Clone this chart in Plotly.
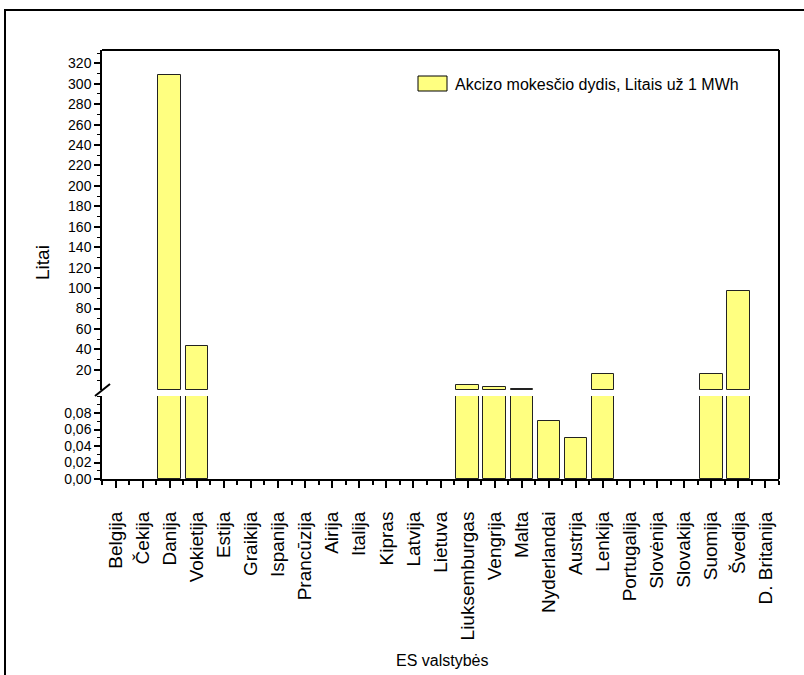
import plotly.graph_objects as go

countries = ["Belgija", "Čekija", "Danija", "Vokietija", "Estija", "Graikija", "Ispanija",
             "Prancūzija", "Airija", "Italija", "Kipras", "Latvija", "Lietuva", "Liuksemburgas",
             "Vengrija", "Malta", "Nyderlandai", "Austrija", "Lenkija", "Portugalija",
             "Slovėnija", "Slovakija", "Suomija", "Švedija", "D. Britanija"]
excise_ltl_per_mwh = [None, None, 309, 43, None, None, None,
                      None, None, None, None, None, None, 5.5,
                      3, 1.7, 0.07, 0.05, 16, None,
                      None, None, 16, 97, None]
series_name = "Akcizo mokesčio dydis, Litais už 1 MWh"
upper_ticks = [20, 40, 60, 80, 100, 120, 140, 160, 180, 200, 220, 240, 260, 280, 300, 320]
lower_ticks = [0.00, 0.02, 0.04, 0.06, 0.08]
lower_range = [0, 0.1006]
upper_range = [0.3, 333]

W, H = 804, 675
SL, SR, ST, SB = 102, 779, 50, 479
L, T, R, B = SL, ST, W - SR, H - SB
pw, ph = SR - SL, SB - ST

def px(x):
    return (x - SL) / pw

def py(y):
    return (SB - y) / ph

xs = list(range(len(countries)))
bar_color = "#FFFF80"
font_family = "Liberation Sans, Arial, sans-serif"

fig = go.Figure()
for ax, rng in [("y", lower_range), ("y2", upper_range)]:
    widths = [1 if (v is not None and v > rng[0]) else 0 for v in excise_ltl_per_mwh]
    fig.add_trace(go.Bar(
        x=xs, y=excise_ltl_per_mwh, yaxis=ax, xaxis="x", width=0.83,
        marker=dict(color=bar_color, line=dict(color="#222222", width=widths)),
        name=series_name, showlegend=False,
    ))

lower_top = py(396)
upper_bot = py(390)

fig.update_layout(
    width=W, height=H,
    margin=dict(l=L, r=R, t=T, b=B),
    paper_bgcolor="white", plot_bgcolor="white",
    separators=",.",
    font=dict(family=font_family, color="black", size=14),
    bargap=0,
    xaxis=dict(
        domain=[0, 1], range=[-0.5, len(countries) - 0.5], anchor="y",
        tickvals=xs, ticktext=countries, tickangle=-90,
        tickfont=dict(size=19, family=font_family),
        ticks="outside", ticklen=7, tickwidth=1.5, tickcolor="black",
        showline=True, linewidth=2, linecolor="black",
        showgrid=False, zeroline=False, ticklabelstandoff=16,
        minor=dict(ticks="outside", ticklen=4, tickwidth=1.5, tickcolor="black",
                   tick0=0.5, dtick=1, showgrid=False),
    ),
    yaxis=dict(
        domain=[0, lower_top], range=lower_range, anchor="x",
        tickvals=lower_ticks, tickformat=".2f",
        tickfont=dict(size=14, family=font_family),
        ticks="outside", ticklen=6, tickwidth=1.5, tickcolor="black",
        showline=True, linewidth=1.5, linecolor="black",
        showgrid=False, zeroline=False,
        minor=dict(ticks="outside", ticklen=3, tickwidth=1.2, tickcolor="black",
                   tick0=0, dtick=0.01, showgrid=False),
    ),
    yaxis2=dict(
        domain=[upper_bot, 1], range=upper_range, anchor="x",
        tickvals=upper_ticks,
        tickfont=dict(size=14, family=font_family),
        ticks="outside", ticklen=6, tickwidth=1.5, tickcolor="black",
        showline=True, linewidth=1.5, linecolor="black",
        showgrid=False, zeroline=False,
        minor=dict(ticks="outside", ticklen=3, tickwidth=1.2, tickcolor="black",
                   tick0=0, dtick=10, showgrid=False),
    ),
)

shapes = [
    dict(type="rect", xref="paper", yref="paper", x0=px(5), x1=px(812), y0=py(685), y1=py(10),
         line=dict(color="black", width=2), fillcolor="rgba(0,0,0,0)", layer="above"),
    dict(type="line", xref="paper", yref="paper", x0=0, x1=1, y0=1, y1=1,
         line=dict(color="black", width=2), layer="above"),
    dict(type="line", xref="paper", yref="paper", x0=1, x1=1, y0=0, y1=1,
         line=dict(color="black", width=2), layer="above"),
    dict(type="line", xref="paper", yref="paper", x0=px(95), x1=px(110), y0=py(396), y1=py(384),
         line=dict(color="black", width=2), layer="above"),
    dict(type="rect", xref="paper", yref="paper", x0=px(418), x1=px(447), y0=py(91), y1=py(76),
         line=dict(color="black", width=1), fillcolor=bar_color, layer="above"),
]
fig.update_layout(shapes=shapes)

fig.add_annotation(text=series_name, xref="paper", yref="paper", x=px(453), y=py(84),
                   xanchor="left", yanchor="middle", showarrow=False,
                   font=dict(size=16, family=font_family, color="black"))
fig.add_annotation(text="Litai", xref="paper", yref="paper", x=px(42), y=py(263),
                   xanchor="center", yanchor="middle", textangle=-90, showarrow=False,
                   font=dict(size=19, family=font_family, color="black"))
fig.add_annotation(text="ES valstybės", xref="paper", yref="paper", x=px(442), y=py(660),
                   xanchor="center", yanchor="middle", showarrow=False,
                   font=dict(size=16, family=font_family, color="black"))

fig.write_html(
    "out.html",
    config={"displayModeBar": False},
    post_script="document.body.style.margin='0px';document.body.style.overflow='hidden';",
)
